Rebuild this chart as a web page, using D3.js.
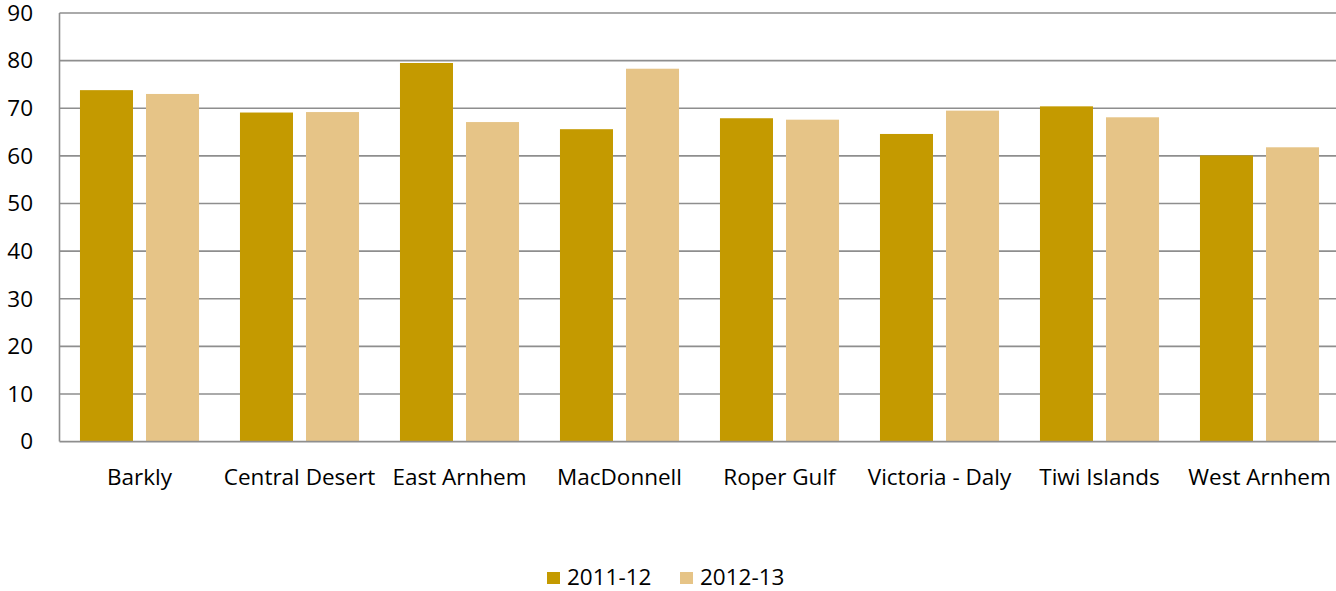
<!DOCTYPE html>
<html><head><meta charset="utf-8">
<script src="https://cdn.jsdelivr.net/npm/d3@7"></script>
<style>body{margin:0;background:#fff;} text{font-family:"Open Sans", Lato, sans-serif;fill:#000;}</style>
</head><body>
<svg id="c" width="1336" height="591"></svg>
<script>
const categories = ["Barkly","Central Desert","East Arnhem","MacDonnell","Roper Gulf","Victoria - Daly","Tiwi Islands","West Arnhem"];
const seriesNames = ["2011-12","2012-13"];
const values2011 = [73.8, 69.1, 79.5, 65.6, 67.9, 64.6, 70.4, 60.1];
const values2012 = [73.0, 69.2, 67.1, 78.3, 67.6, 69.5, 68.1, 61.8];
const yTicks = [0,10,20,30,40,50,60,70,80,90];
const colors = ["#C49A00","#E6C487"];

(function(){
const svg = d3.select("#c");
const pL = 59.5, pR = 1339.5, pT = 13, pB = 441.6;
const fs = "22.5px";
const x = d3.scaleBand().domain(categories).range([pL, pR]).paddingInner(0).paddingOuter(0);
const y = d3.scaleLinear().domain([0,90]).range([pB, pT]);
const xs = d3.scaleBand().domain(seriesNames).range([0, x.bandwidth()]).paddingInner(0.197).paddingOuter(0.31);

svg.append("g").selectAll("line").data(yTicks.filter(d=>d>0)).join("line")
  .attr("x1", pL).attr("x2", pR).attr("y1", d=>y(d)).attr("y2", d=>y(d))
  .attr("stroke", "#8e8e8e").attr("stroke-width", 1.6);

const data = categories.map((c,i)=>({c, vals:[values2011[i], values2012[i]]}));
const g = svg.append("g").selectAll("g").data(data).join("g").attr("transform", d=>`translate(${x(d.c)},0)`);
g.selectAll("rect").data(d=>d.vals.map((v,j)=>({s:seriesNames[j], v, j}))).join("rect")
  .attr("x", d=>xs(d.s)).attr("width", xs.bandwidth())
  .attr("y", d=>y(d.v)).attr("height", d=>pB - y(d.v))
  .attr("fill", d=>colors[d.j]);

svg.append("line").attr("x1", pL).attr("x2", pL).attr("y1", pT).attr("y2", pB).attr("stroke","#8e8e8e").attr("stroke-width",1.6);
svg.append("line").attr("x1", pL).attr("x2", pR).attr("y1", pB).attr("y2", pB).attr("stroke","#8e8e8e").attr("stroke-width",1.6);

svg.append("g").selectAll("text").data(yTicks).join("text")
  .attr("x", 33).attr("y", d=>y(d)).attr("dy","0.35em").attr("text-anchor","end")
  .style("font-size",fs).text(d=>d);

svg.append("g").selectAll("text").data(categories).join("text")
  .attr("x", d=>x(d)+x.bandwidth()/2).attr("y", 477).attr("dy","0.35em").attr("text-anchor","middle")
  .style("font-size",fs).text(d=>d);

const legX = [547, 680];
const lg = svg.append("g").selectAll("g").data(seriesNames).join("g").attr("transform",(d,i)=>`translate(${legX[i]},572)`);
lg.append("rect").attr("width",13).attr("height",12).attr("fill",(d,i)=>colors[i]);
lg.append("text").attr("x",20).attr("y",5.5).attr("dy","0.35em").style("font-size",fs).text(d=>d);
})();
</script>
</body></html>
